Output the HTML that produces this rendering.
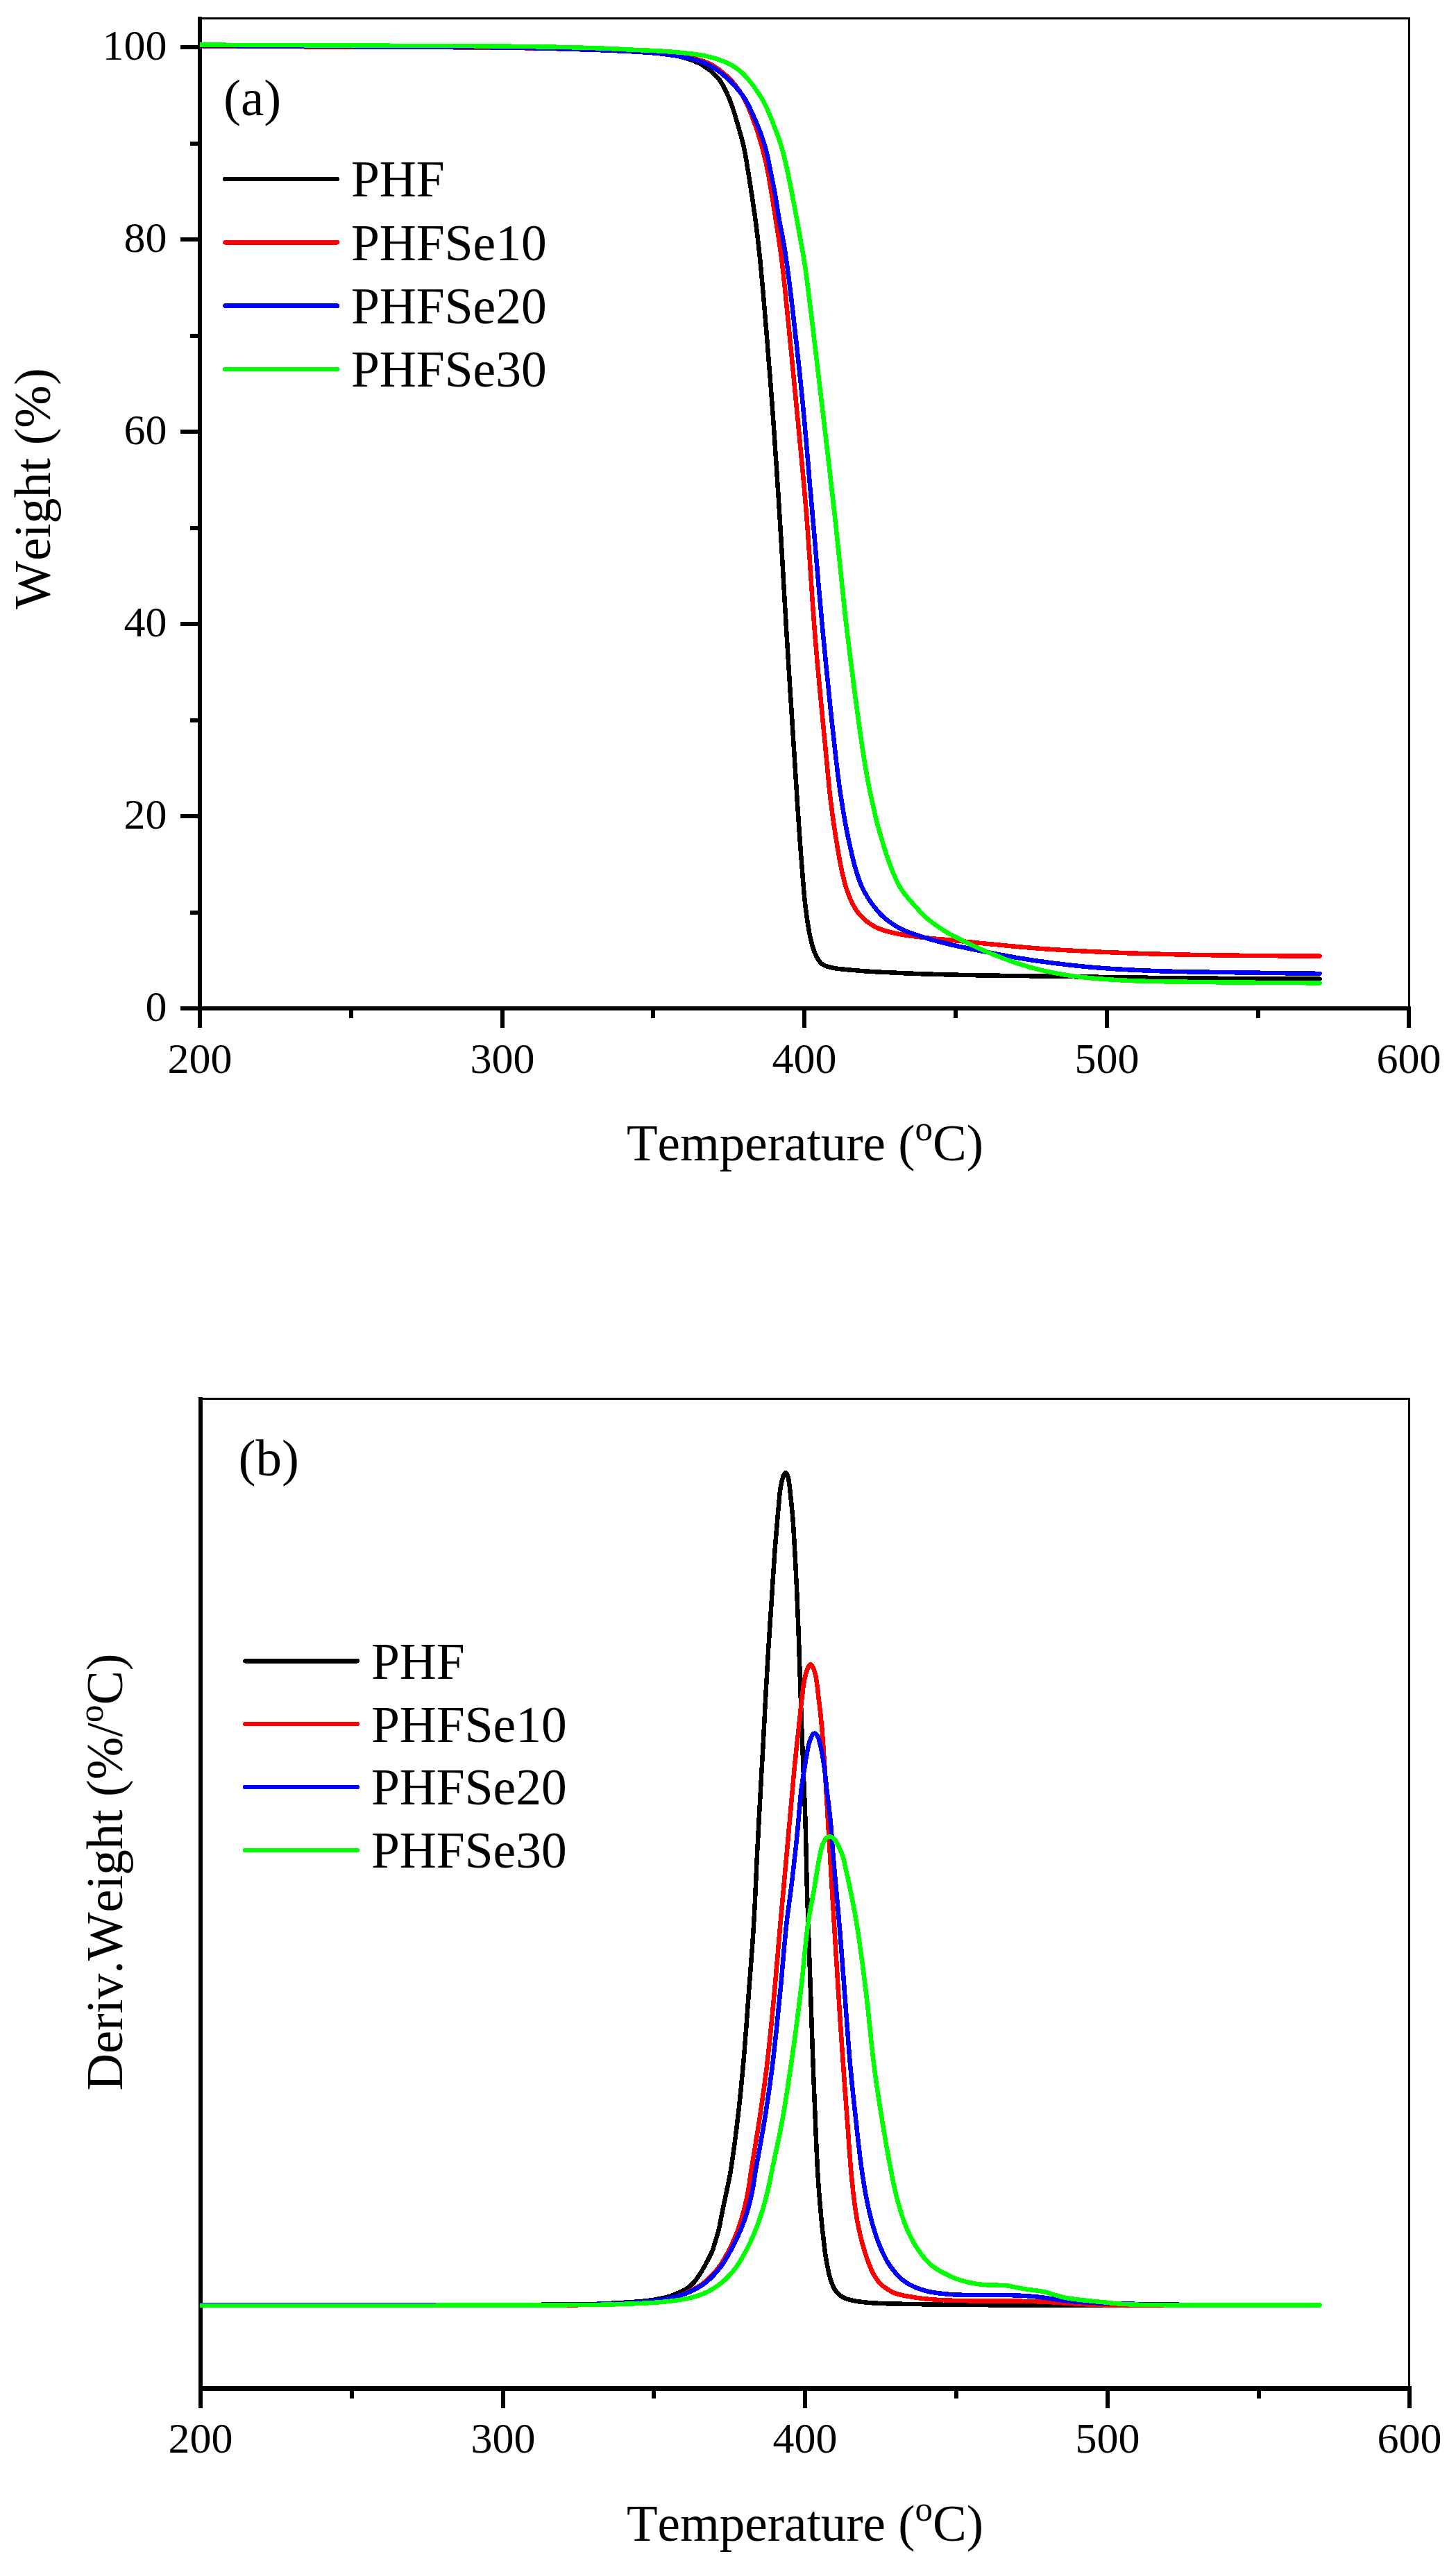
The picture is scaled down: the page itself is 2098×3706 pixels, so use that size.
<!DOCTYPE html>
<html lang="en">
<head>
<meta charset="utf-8">
<title>TGA and DTG curves</title>
<style>
html,body{margin:0;padding:0;background:#fff;}
body{width:2098px;height:3706px;overflow:hidden;}
svg{display:block;}
text{font-family:"Liberation Serif","Times New Roman",Times,serif;fill:#000;font-kerning:none;}
.tick{font-size:62px;}
.title{font-size:73px;}
.leg{font-size:73.5px;}
.panel{font-size:75px;}
.ax{stroke:#000;stroke-width:6;fill:none;stroke-linecap:butt;}
.bd{stroke:#000;stroke-width:3;fill:none;}
.cv{shape-rendering:crispEdges;fill:none;stroke-width:6.5;stroke-linejoin:round;stroke-linecap:round;}
</style>
</head>
<body>
<svg width="2098" height="3706" viewBox="0 0 2098 3706">
<rect x="0" y="0" width="2098" height="3706" fill="#ffffff"/>
<defs><clipPath id="plotclip"><rect x="288" y="0" width="1742" height="3706"/></clipPath></defs>
<g>
<path class="bd" shape-rendering="crispEdges" d="M288.0 26.5H2030.5V1453.0"/>
<path class="ax" shape-rendering="crispEdges" d="M288.0 24.0V1456.0"/>
<path class="ax" shape-rendering="crispEdges" style="stroke-width:6" d="M285.0 1453.0H2033.0"/>
<g clip-path="url(#plotclip)">
<path class="cv" stroke="#000000" d="M288 66L290.1 66L295.9 66L305.1 66.1L317.3 66.1L331.9 66.2L348.5 66.3L366.7 66.4L386 66.5L405.9 66.6L426.1 66.7L446.1 66.8L465.3 66.9L483.4 67L500 67.1L516.9 67.2L534.3 67.3L552.1 67.3L570.2 67.4L588.4 67.5L606.7 67.5L624.8 67.6L642.8 67.7L660.5 67.8L677.7 67.9L694.4 68L710.4 68.2L725.7 68.4L740 68.6L749.2 68.8L758.2 68.9L766.9 69.1L775.3 69.3L783.6 69.5L791.6 69.7L799.4 69.9L807 70.2L814.5 70.4L821.8 70.6L829 70.9L836.1 71.1L843.1 71.4L850 71.6L856.1 71.8L862.1 72L868 72.3L873.7 72.5L879.4 72.7L884.9 73L890.3 73.2L895.6 73.5L900.8 73.7L906 74L911 74.3L916 74.6L922 75L927.9 75.4L933.7 75.8L939.3 76.2L944.8 76.7L950.1 77.2L955.2 77.7L960 78.3L965.5 79.1L970.7 79.8L975.6 80.7L980.4 81.7L985 82.8L990.1 84.3L995 86L999.6 87.8L1003.7 89.5L1008.7 91.8L1013.3 94.5L1017.4 97.2L1021.6 100.3L1025.7 103.7L1029.8 107.5L1033.7 111.5L1037.4 116L1040.1 120.2L1042.7 124.8L1045 129.5L1047.2 134L1049.5 138.9L1051.5 143.6L1053.5 149L1055.1 153.5L1056.7 158.5L1058.4 163.7L1060 169.2L1061.6 174.7L1063.2 180L1064.7 185.2L1066.2 190.4L1067.7 195.6L1069.1 200.9L1070.4 206.2L1071.7 211.7L1072.8 216.8L1073.8 222.1L1074.8 227.4L1075.7 232.8L1076.5 238.2L1077.4 243.6L1078.3 249L1079.2 254.4L1080.1 259.9L1080.9 265.3L1081.8 270.8L1082.6 276.2L1083.4 281.6L1084.2 287L1085 292.1L1085.7 297.1L1086.4 302.1L1087.2 307L1087.9 312.1L1088.6 317.4L1089.3 323L1089.9 328L1090.6 333.1L1091.2 338.1L1091.8 343.3L1092.4 348.7L1093.1 354.3L1093.7 360.1L1094.4 366.3L1095.1 372.9L1095.8 380L1096.7 389.7L1097.7 400.3L1098.7 411.7L1099.8 423.8L1100.9 436.4L1102 449.6L1103.1 463.1L1104.3 476.8L1105.4 490.7L1106.5 504.7L1107.6 518.5L1108.7 532.2L1109.8 545.6L1110.8 558.6L1111.7 571.3L1112.7 584.1L1113.6 596.8L1114.5 609.5L1115.4 622.2L1116.3 635L1117.1 647.7L1118 660.4L1118.9 673.2L1119.7 685.9L1120.5 698.7L1121.4 711.4L1122.2 724.2L1123 737L1123.8 749.9L1124.6 762.9L1125.4 775.9L1126.2 788.9L1127 801.9L1127.7 815L1128.5 828L1129.2 841.1L1130 854.1L1130.7 867L1131.5 880L1132.3 892.9L1133 905.8L1133.8 918.6L1134.6 931.1L1135.4 943.9L1136.2 956.8L1137 969.7L1137.8 982.7L1138.6 995.7L1139.5 1008.5L1140.3 1021.2L1141.1 1033.6L1141.8 1045.7L1142.6 1057.5L1143.3 1068.8L1144 1079.7L1144.7 1090L1145.1 1096.8L1145.5 1103.3L1145.9 1109.6L1146.3 1115.7L1146.7 1121.6L1147.1 1127.4L1147.4 1133.1L1147.8 1138.7L1148.1 1144.2L1148.5 1149.7L1148.8 1155.3L1149.2 1160.9L1149.6 1166.6L1150 1172.4L1150.4 1178.3L1150.8 1184.3L1151.2 1190.4L1151.6 1196.4L1152.1 1202.5L1152.5 1208.6L1152.9 1214.7L1153.4 1220.7L1153.8 1226.6L1154.2 1232.5L1154.7 1238.3L1155.1 1243.9L1155.5 1249.5L1156 1254.8L1156.5 1260.8L1156.9 1266.7L1157.4 1272.4L1157.9 1278.1L1158.3 1283.6L1158.8 1289L1159.3 1294.3L1159.9 1299.6L1160.4 1304.8L1161.1 1309.9L1161.9 1316.2L1162.7 1322.5L1163.6 1328.6L1164.6 1334.6L1165.6 1340.4L1166.6 1345.8L1167.7 1351L1169.2 1357.4L1170.8 1363.3L1172.5 1368.7L1174.3 1373.5L1176.8 1379L1179.6 1383.5L1182 1386.7L1184.9 1389.4L1188.2 1391.2L1192.2 1392.7L1197 1394L1201.6 1395L1206.9 1395.8L1212.7 1396.4L1218.9 1397L1225.3 1397.6L1231.9 1398.2L1236.7 1398.6L1241.7 1399L1246.9 1399.4L1252.2 1399.7L1257.7 1400L1263.3 1400.4L1268.9 1400.7L1274.7 1401L1280.5 1401.2L1286.4 1401.5L1292.3 1401.8L1297.8 1402L1303.2 1402.3L1308.8 1402.5L1314.4 1402.7L1320.1 1403L1325.8 1403.2L1331.6 1403.4L1337.5 1403.6L1343.5 1403.7L1349.5 1403.9L1355.7 1404.1L1361.9 1404.3L1368.3 1404.4L1374.7 1404.6L1382.8 1404.8L1391 1405L1399.3 1405.1L1407.8 1405.3L1416.4 1405.4L1425.2 1405.5L1434.1 1405.6L1443.1 1405.8L1452.2 1405.9L1461.5 1406L1470.9 1406.1L1480.5 1406.2L1490.2 1406.4L1500 1406.5L1512.4 1406.7L1525.2 1406.9L1538.2 1407.1L1551.5 1407.3L1565 1407.5L1578.8 1407.7L1592.7 1407.9L1606.7 1408.1L1620.8 1408.3L1635 1408.5L1649.1 1408.7L1663.3 1408.9L1677.5 1409L1691.5 1409.2L1707.2 1409.4L1724.7 1409.5L1743.4 1409.7L1763 1409.8L1783 1410L1802.9 1410.1L1822.1 1410.2L1840.4 1410.3L1857.1 1410.4L1871.8 1410.5L1884.1 1410.6L1893.5 1410.7L1899.4 1410.7L1901.5 1410.7"/>
<path class="cv" stroke="#ff0000" d="M288 66.4L290.1 66.4L295.9 66.4L305.1 66.5L317.3 66.6L331.9 66.6L348.5 66.7L366.7 66.8L386 67L405.9 67.1L426.1 67.2L446.1 67.3L465.3 67.4L483.4 67.5L500 67.6L516.9 67.7L534.3 67.8L552.1 67.8L570.2 67.9L588.4 68L606.7 68L624.8 68.1L642.8 68.2L660.5 68.3L677.7 68.4L694.4 68.5L710.4 68.6L725.7 68.8L740 69L749.2 69.1L758.2 69.3L766.9 69.5L775.3 69.6L783.6 69.8L791.6 70L799.4 70.2L807 70.4L814.5 70.6L821.8 70.8L829 71L836.1 71.3L843.1 71.5L850 71.7L856.1 71.9L862.1 72.1L868 72.3L873.7 72.5L879.4 72.7L884.9 72.9L890.3 73.2L895.6 73.4L900.8 73.6L906 73.9L911 74.1L916 74.4L921.9 74.7L927.6 75L933.2 75.3L938.6 75.7L943.9 76L949.2 76.5L954.6 77L960 77.6L965.6 78.3L971.3 79.1L977.1 79.9L982.9 80.9L988.5 81.8L993.9 82.9L999 84L1003.7 85.2L1009.8 87L1015.3 88.8L1020.5 90.9L1025.7 93.5L1030.3 96.3L1035 99.6L1039.5 103.1L1043.8 106.6L1047.7 110L1052.1 114.2L1056 118.4L1059.8 123L1063.2 127.5L1066.5 132.3L1069.7 137.4L1072.8 143L1075 147.4L1077.2 152.1L1079.3 157L1081.4 162.1L1083.4 167.2L1085.3 172.4L1087.2 177.4L1089.2 183.1L1091.1 188.8L1093 194.5L1094.7 200.2L1096.4 206L1098 211.7L1099.5 217.4L1101 223.1L1102.3 228.8L1103.7 234.5L1104.9 240.3L1106.1 246L1107.2 251.7L1108.2 257.4L1109.2 263.2L1110.1 268.9L1111.1 274.7L1112 280.4L1112.9 286.1L1113.9 291.8L1114.8 297.5L1115.7 303.3L1116.6 309L1117.5 314.7L1118.4 320.4L1119.3 326.2L1120.2 331.9L1121.1 337.6L1122 343.4L1122.8 349.1L1123.6 354.5L1124.3 359.6L1125.1 364.6L1125.8 370L1126.6 376.1L1127.4 383.4L1128.4 391.7L1129.4 401.3L1130.6 411.9L1131.8 423.5L1133 435.8L1134.3 448.9L1135.7 462.4L1137.1 476.2L1138.4 490.3L1139.8 504.4L1141.2 518.4L1142.5 532.3L1143.8 545.7L1145 558.6L1146.3 571.4L1147.5 584.2L1148.8 597L1150 609.8L1151.3 622.7L1152.5 635.5L1153.7 648.4L1154.9 661.3L1156.1 674.1L1157.3 687L1158.5 699.9L1159.6 712.8L1160.7 725.6L1161.8 738.5L1162.8 751.4L1163.8 764.2L1164.7 777.1L1165.6 790L1166.5 802.9L1167.4 815.8L1168.2 828.7L1169.1 841.6L1169.9 854.5L1170.8 867.3L1171.7 880.2L1172.6 893L1173.6 905.8L1174.6 918.6L1175.7 931.4L1176.8 944.6L1178 958.1L1179.3 971.8L1180.6 985.5L1181.8 999.2L1183.1 1012.7L1184.4 1026L1185.6 1038.8L1186.8 1051.2L1188 1063L1189.1 1074L1190 1084.3L1190.9 1093.6L1191.6 1100.6L1192.2 1107L1192.7 1112.9L1193.2 1118.4L1193.7 1123.7L1194.2 1128.9L1194.7 1134L1195.3 1139.4L1195.9 1145L1196.5 1150.4L1197.2 1155.9L1197.9 1161.3L1198.6 1166.8L1199.3 1172.4L1200.1 1177.9L1200.9 1183.4L1201.7 1188.9L1202.5 1194.4L1203.3 1199.9L1204.2 1205.5L1205.1 1211.2L1206.1 1217L1207 1222.8L1208 1228.6L1209 1234.2L1210 1239.7L1211 1245.1L1212 1250.1L1213 1254.8L1214.4 1260.9L1215.7 1266.5L1217 1271.8L1218.5 1277L1220.3 1282.3L1222 1287L1223.9 1291.9L1225.9 1296.7L1228 1301.3L1230.3 1305.7L1232.7 1309.8L1236 1314.5L1239.6 1318.8L1243.4 1322.7L1247.4 1326.3L1251.5 1329.5L1255.7 1332.4L1260.1 1335L1264.8 1337.3L1269.9 1339.4L1275.3 1341.1L1280.9 1342.7L1286.8 1344.1L1291.8 1345.2L1297 1346.2L1302.3 1347.1L1307.9 1348L1313.7 1348.8L1319.8 1349.6L1324.7 1350.2L1329.9 1350.8L1335.2 1351.4L1340.7 1351.9L1346.4 1352.5L1352.1 1353L1357.8 1353.5L1363.5 1354L1369.1 1354.6L1374.7 1355.1L1380.2 1355.6L1385.6 1356.2L1391 1356.7L1396.4 1357.3L1401.8 1357.8L1407.2 1358.4L1412.7 1358.9L1418.3 1359.5L1423.9 1360L1429.7 1360.6L1435.2 1361.1L1440.8 1361.7L1446.4 1362.2L1452 1362.8L1457.7 1363.3L1463.5 1363.8L1469.4 1364.4L1475.3 1364.9L1481.3 1365.4L1487.4 1365.9L1493.7 1366.4L1500 1366.9L1506.6 1367.4L1513.4 1367.8L1520.2 1368.2L1527.2 1368.7L1534.3 1369.1L1541.5 1369.5L1548.7 1369.9L1556.1 1370.2L1563.4 1370.6L1570.9 1371L1578.3 1371.3L1585.8 1371.7L1593.4 1372L1600.9 1372.3L1609.1 1372.6L1617.4 1373L1625.6 1373.3L1633.9 1373.6L1642.3 1373.8L1650.7 1374.1L1659.2 1374.4L1667.7 1374.6L1676.4 1374.9L1685.2 1375.1L1694.1 1375.3L1703.2 1375.5L1712.4 1375.7L1721.8 1375.9L1734.4 1376.1L1748.8 1376.3L1764.4 1376.5L1781 1376.7L1798.1 1376.9L1815.2 1377.1L1831.9 1377.2L1847.8 1377.3L1862.4 1377.4L1875.3 1377.5L1886.1 1377.6L1894.4 1377.7L1899.6 1377.7L1901.5 1377.7"/>
<path class="cv" stroke="#0000ff" d="M288 66L290.1 66L295.9 66L305.1 66.1L317.3 66.2L331.9 66.2L348.5 66.3L366.7 66.4L386 66.5L405.9 66.7L426.1 66.8L446.1 66.9L465.3 67L483.4 67.1L500 67.2L516.9 67.3L534.3 67.4L552.1 67.4L570.2 67.5L588.4 67.6L606.7 67.6L624.8 67.7L642.8 67.8L660.5 67.9L677.7 68L694.4 68.1L710.4 68.3L725.7 68.5L740 68.7L749.2 68.9L758.2 69L766.9 69.2L775.3 69.4L783.6 69.6L791.6 69.8L799.4 70L807.1 70.3L814.5 70.5L821.9 70.7L829.1 71L836.1 71.2L843.1 71.5L850 71.7L856.7 71.9L863.2 72.2L869.5 72.4L875.7 72.7L881.8 72.9L887.7 73.2L893.6 73.4L899.3 73.7L904.9 74L910.4 74.3L915.8 74.6L921.7 75L927.4 75.3L933 75.6L938.4 76L943.7 76.4L949 76.8L954.4 77.4L959.8 78.1L965.4 78.9L971.2 79.8L977 80.8L982.8 81.8L988.4 83L993.9 84.2L999 85.5L1003.7 86.8L1009.8 88.8L1015.3 90.9L1020.5 93.2L1025.7 96L1030.3 98.9L1035 102.2L1039.5 105.7L1043.8 109.2L1047.7 112.5L1052 116.5L1055.7 120.3L1059.5 124.6L1063 128.7L1066.6 133.1L1070.2 137.8L1073.7 143L1076.2 147.3L1078.7 151.9L1081.1 156.9L1083.5 162L1085.8 167.2L1088.1 172.3L1090.2 177.4L1092.2 182.3L1094.1 187.1L1096 192L1097.8 196.9L1099.5 201.8L1101.1 206.8L1102.6 211.7L1104.1 217.4L1105.5 223.1L1106.7 228.8L1107.9 234.5L1109 240.3L1110.2 246L1111.4 251.7L1112.6 257.5L1113.7 263.2L1114.9 268.9L1115.9 274.7L1117 280.4L1118 286.1L1118.9 291.8L1119.8 297.5L1120.6 303.3L1121.5 309L1122.5 314.7L1123.5 320.4L1124.6 326.2L1125.8 331.9L1126.9 337.6L1128 343.4L1129 349.1L1129.9 354.5L1130.8 359.5L1131.6 364.6L1132.4 370L1133.3 376.1L1134.3 383.4L1135.4 391.7L1136.7 401.3L1138 411.9L1139.4 423.5L1140.9 435.8L1142.4 448.8L1144 462.3L1145.5 476.2L1147.1 490.3L1148.7 504.4L1150.2 518.4L1151.7 532.2L1153.1 545.7L1154.4 558.6L1155.7 571.4L1157 584.2L1158.2 597L1159.4 609.8L1160.5 622.6L1161.6 635.5L1162.8 648.4L1163.9 661.3L1165 674.1L1166 687L1167.1 699.9L1168.3 712.8L1169.4 725.6L1170.5 738.5L1171.6 751.4L1172.8 764.2L1173.9 777.1L1175 790L1176.1 802.9L1177.2 815.8L1178.3 828.7L1179.4 841.6L1180.6 854.5L1181.7 867.3L1182.9 880.2L1184 893L1185.2 905.8L1186.4 918.6L1187.7 931.4L1189 944.6L1190.3 958.1L1191.7 971.8L1193.1 985.5L1194.5 999.2L1195.8 1012.7L1197.2 1026L1198.6 1038.8L1199.9 1051.2L1201.2 1063L1202.4 1074L1203.6 1084.2L1204.6 1093.5L1205.5 1100.6L1206.2 1107L1206.9 1112.9L1207.6 1118.5L1208.3 1123.7L1209 1128.9L1209.7 1134.1L1210.5 1139.4L1211.3 1145.1L1212.2 1150.5L1213 1155.9L1213.9 1161.4L1214.7 1166.9L1215.7 1172.4L1216.6 1177.9L1217.6 1183.4L1218.6 1188.9L1219.6 1194.4L1220.7 1199.9L1221.8 1205.5L1223 1211.2L1224.3 1217L1225.6 1222.8L1226.9 1228.6L1228.2 1234.3L1229.6 1239.8L1230.9 1245.1L1232.3 1250.1L1233.7 1254.8L1235.6 1261L1237.5 1266.6L1239.4 1271.9L1241.6 1277.1L1244.1 1282.3L1246.7 1287.1L1249.6 1292L1252.7 1296.8L1255.9 1301.5L1259.1 1305.9L1262.2 1309.8L1265.5 1313.7L1268.6 1317.1L1271.9 1320.3L1275.6 1323.5L1279.4 1326.5L1283.4 1329.5L1287.7 1332.4L1292.3 1335.2L1297 1337.8L1301.7 1340.1L1306.8 1342.2L1312 1344.2L1317.3 1346L1322.7 1347.8L1328 1349.6L1333.4 1351.3L1338.7 1352.9L1344.2 1354.5L1349.7 1356L1355.3 1357.4L1361 1358.9L1365.9 1360.1L1370.8 1361.3L1375.8 1362.4L1380.9 1363.5L1386.1 1364.6L1391.4 1365.8L1396.7 1366.9L1402.2 1368L1407.4 1369.1L1412.8 1370.1L1418.3 1371.2L1423.9 1372.3L1429.6 1373.4L1435.2 1374.5L1440.9 1375.6L1446.4 1376.6L1451.8 1377.6L1457.1 1378.5L1462.6 1379.5L1467.9 1380.4L1473.1 1381.2L1478.2 1382.1L1483.3 1382.9L1488.6 1383.7L1494.2 1384.5L1500 1385.3L1505.2 1386L1510.7 1386.7L1516.2 1387.5L1521.9 1388.2L1527.7 1388.9L1533.7 1389.6L1539.7 1390.3L1545.8 1391L1552 1391.7L1558.2 1392.3L1564.4 1392.9L1570.7 1393.5L1576.8 1394L1582.9 1394.5L1589.1 1395L1595.4 1395.4L1601.7 1395.9L1608 1396.3L1614.5 1396.6L1621 1397L1627.5 1397.4L1634.1 1397.7L1640.8 1398L1647.6 1398.3L1654.4 1398.6L1661.3 1398.9L1669.4 1399.2L1677.7 1399.5L1686.1 1399.7L1694.6 1399.9L1703.2 1400.1L1711.9 1400.3L1720.7 1400.4L1729.5 1400.5L1738.4 1400.7L1747.2 1400.8L1756 1400.9L1764.8 1401L1773.5 1401.2L1782.2 1401.3L1791.3 1401.4L1801.4 1401.6L1812.1 1401.7L1823.3 1401.9L1834.6 1402L1845.9 1402.2L1856.8 1402.3L1867.1 1402.4L1876.5 1402.5L1884.8 1402.6L1891.7 1402.7L1897 1402.8L1900.3 1402.8L1901.5 1402.8"/>
<path class="cv" stroke="#00ff00" d="M288 64.6L290.1 64.6L295.9 64.6L305.1 64.7L317.3 64.7L331.9 64.8L348.5 64.8L366.7 64.9L386 65L405.9 65.1L426.1 65.2L446.1 65.3L465.3 65.3L483.4 65.4L500 65.5L516.9 65.6L534.3 65.6L552.1 65.7L570.2 65.8L588.4 65.8L606.7 65.9L624.9 66L642.8 66.1L660.5 66.1L677.7 66.2L694.4 66.4L710.4 66.5L725.7 66.6L740 66.8L749.2 66.9L758.2 67L766.9 67.2L775.3 67.3L783.5 67.4L791.5 67.6L799.3 67.7L807 67.9L814.5 68L821.8 68.2L829 68.4L836 68.6L843 68.8L849.9 69L856.6 69.2L863.1 69.5L869.4 69.7L875.7 70L881.7 70.3L887.7 70.5L893.5 70.8L899.2 71.1L904.9 71.4L910.4 71.6L915.8 71.9L921.7 72.2L927.4 72.4L933 72.6L938.4 72.9L943.7 73.1L949 73.4L954.4 73.7L959.8 74.1L965.4 74.5L971.1 75L976.9 75.5L982.7 76L988.4 76.6L993.8 77.2L998.9 77.8L1003.7 78.5L1009.8 79.5L1015.2 80.4L1020.4 81.6L1025.7 82.9L1031.4 84.5L1037.2 86.4L1042.7 88.4L1047.7 90.5L1052.1 92.7L1056.1 95L1060 97.6L1064.4 100.8L1068.8 104.4L1073.4 108.9L1076.3 112.2L1079.5 116L1082.8 120.1L1086.1 124.5L1089.4 129.2L1092.6 133.8L1095.6 138.5L1098.3 143L1101 147.8L1103.4 152.7L1105.7 157.6L1107.8 162.5L1109.8 167.5L1111.8 172.4L1113.8 177.4L1115.7 182.3L1117.6 187.1L1119.4 192L1121.2 196.9L1122.9 201.8L1124.5 206.8L1126 211.7L1127.6 217.4L1129.2 223.1L1130.6 228.8L1131.9 234.5L1133.2 240.3L1134.5 246L1135.7 251.7L1136.9 257.5L1138.1 263.2L1139.2 268.9L1140.3 274.7L1141.4 280.4L1142.5 286.1L1143.6 291.8L1144.7 297.5L1145.8 303.3L1146.8 309L1147.9 314.7L1149 320.4L1150 326.2L1151 331.9L1152.1 337.6L1153.1 343.4L1154.1 349.1L1155.1 354.5L1156 359.5L1156.9 364.6L1157.8 370L1158.8 376.1L1160 383.4L1161.1 391.7L1162.4 401.3L1163.8 411.9L1165.3 423.5L1166.8 435.9L1168.4 448.9L1170 462.4L1171.7 476.2L1173.3 490.3L1175 504.4L1176.7 518.4L1178.3 532.2L1179.9 545.7L1181.4 558.6L1182.9 571.4L1184.4 584.2L1186 597L1187.5 609.8L1189 622.7L1190.5 635.5L1192 648.4L1193.5 661.3L1195 674.1L1196.5 687L1197.9 699.9L1199.4 712.8L1200.9 725.6L1202.3 738.5L1203.7 751.4L1205.1 764.2L1206.5 777.1L1207.8 790L1209.1 802.9L1210.5 815.8L1211.8 828.7L1213.1 841.6L1214.5 854.5L1215.8 867.4L1217.2 880.2L1218.6 893L1220.1 905.8L1221.6 918.6L1223.2 931.4L1224.8 944.7L1226.5 958.2L1228.3 971.9L1230 985.6L1231.8 999.3L1233.6 1012.8L1235.4 1026L1237.1 1038.9L1238.9 1051.3L1240.5 1063L1242.1 1074.1L1243.7 1084.3L1245.1 1093.6L1246.2 1100.6L1247.3 1107.1L1248.3 1113L1249.3 1118.5L1250.2 1123.7L1251.2 1128.9L1252.2 1134.1L1253.3 1139.4L1254.5 1145L1255.7 1150.4L1256.8 1155.9L1258.1 1161.4L1259.3 1166.9L1260.6 1172.4L1261.9 1177.9L1263.3 1183.4L1264.7 1188.9L1266.2 1194.4L1267.7 1199.9L1269.3 1205.5L1271 1211.2L1272.8 1217L1274.6 1222.9L1276.4 1228.6L1278.3 1234.3L1280.2 1239.8L1282.1 1245.1L1283.9 1250.1L1285.8 1254.8L1288 1260L1290.1 1264.9L1292.2 1269.5L1294.4 1273.8L1296.8 1278.1L1299.4 1282.3L1302.3 1286.5L1305.4 1290.5L1308.7 1294.4L1312.1 1298.3L1315.4 1302L1318.6 1305.5L1322.5 1309.9L1326.2 1314L1329.9 1318L1333.7 1321.6L1338.3 1325.5L1342.9 1329L1347.5 1332.3L1352 1335.5L1356.6 1338.6L1361.2 1341.5L1365.7 1344.2L1370.3 1346.7L1374.9 1349.2L1379.5 1351.6L1384.1 1353.9L1388.7 1356.2L1393.3 1358.4L1397.8 1360.6L1402.4 1362.8L1407 1364.9L1411.6 1367L1416.2 1369L1420.8 1371L1425.3 1372.9L1429.9 1374.8L1434.5 1376.6L1439 1378.4L1443.6 1380.2L1448.2 1381.9L1452.8 1383.5L1457.4 1385.1L1462 1386.7L1466.5 1388.2L1471.1 1389.7L1475.7 1391.1L1480.2 1392.5L1484.8 1393.8L1489.4 1395.1L1494.1 1396.3L1498.6 1397.4L1504.1 1398.8L1510.2 1400.1L1514.4 1400.9L1519.2 1401.9L1524.4 1402.8L1529.8 1403.8L1535.2 1404.7L1540.4 1405.5L1545.3 1406.2L1550.1 1406.9L1554.9 1407.5L1559.8 1408.1L1565 1408.6L1570.7 1409.2L1575.4 1409.6L1580.3 1410L1585.3 1410.4L1590.6 1410.8L1596.1 1411.2L1601.6 1411.6L1607.4 1411.9L1613.2 1412.2L1619.1 1412.5L1625.1 1412.8L1631.1 1413.1L1636.9 1413.3L1642.8 1413.5L1648.8 1413.7L1654.8 1413.9L1660.9 1414L1667.1 1414.1L1673.4 1414.2L1679.8 1414.3L1686.4 1414.4L1693.1 1414.5L1700 1414.6L1707.1 1414.7L1714.3 1414.8L1721.8 1414.9L1733.6 1415.1L1747.4 1415.2L1762.8 1415.4L1779.2 1415.5L1796.2 1415.6L1813.4 1415.8L1830.3 1415.9L1846.4 1416L1861.3 1416.1L1874.6 1416.2L1885.7 1416.3L1894.2 1416.4L1899.6 1416.4L1901.5 1416.4"/>
</g>
<path class="ax" shape-rendering="crispEdges" d="M288.0 1453.0v28.0M506.0 1453.0v14.0M724.0 1453.0v28.0M941.0 1453.0v14.0M1159.0 1453.0v28.0M1377.0 1453.0v14.0M1595.0 1453.0v28.0M1813.0 1453.0v14.0M2030.0 1453.0v28.0"/>
<text class="tick" text-anchor="middle" x="288.0" y="1546.0">200</text>
<text class="tick" text-anchor="middle" x="724.0" y="1546.0">300</text>
<text class="tick" text-anchor="middle" x="1159.0" y="1546.0">400</text>
<text class="tick" text-anchor="middle" x="1595.0" y="1546.0">500</text>
<text class="tick" text-anchor="middle" x="2030.0" y="1546.0">600</text>
<path class="ax" shape-rendering="crispEdges" d="M288.0 1453.0h-28M288.0 1314.5h-14M288.0 1176.0h-28M288.0 1037.5h-14M288.0 899.0h-28M288.0 760.5h-14M288.0 622.0h-28M288.0 483.5h-14M288.0 345.0h-28M288.0 206.5h-14M288.0 68.0h-28"/>
<text class="tick" text-anchor="end" x="240.5" y="1471.0">0</text>
<text class="tick" text-anchor="end" x="240.5" y="1194.0">20</text>
<text class="tick" text-anchor="end" x="240.5" y="917.0">40</text>
<text class="tick" text-anchor="end" x="240.5" y="640.0">60</text>
<text class="tick" text-anchor="end" x="240.5" y="363.0">80</text>
<text class="tick" text-anchor="end" x="240.5" y="86.0">100</text>
<text class="panel" x="322.0" y="165.5">(a)</text>
<line class="cv" stroke="#000000" x1="324.4" y1="258.0" x2="485.9" y2="258.0"/>
<text class="leg" x="505.9" y="283.3">PHF</text>
<line class="cv" stroke="#ff0000" x1="324.4" y1="349.3" x2="485.9" y2="349.3"/>
<text class="leg" x="505.9" y="374.6">PHFSe10</text>
<line class="cv" stroke="#0000ff" x1="324.4" y1="440.6" x2="485.9" y2="440.6"/>
<text class="leg" x="505.9" y="465.9">PHFSe20</text>
<line class="cv" stroke="#00ff00" x1="324.4" y1="531.9" x2="485.9" y2="531.9"/>
<text class="leg" x="505.9" y="557.2">PHFSe30</text>
<text class="title" style="font-size:74px" text-anchor="middle" transform="translate(71.7 704.0) rotate(-90)">Weight (%)</text>
<text class="title" text-anchor="middle" x="1160" y="1671.5">Temperature (<tspan dy="-28.5" font-size="51">o</tspan><tspan dy="28.5">C)</tspan></text>
</g>
<g>
<path class="bd" shape-rendering="crispEdges" d="M289.0 2015.5H2030.5V3441.5"/>
<path class="ax" shape-rendering="crispEdges" d="M289.0 2013.0V3444.5"/>
<path class="ax" shape-rendering="crispEdges" style="stroke-width:7" d="M286.0 3441.5H2034.0"/>
<g clip-path="url(#plotclip)">
<path class="cv" stroke="#000000" d="M288 3322L291.2 3322L300.1 3322L314.2 3322L332.7 3322L354.8 3321.9L379.9 3321.9L407.2 3321.9L436 3321.8L465.5 3321.8L495.2 3321.7L524.2 3321.7L551.8 3321.6L577.3 3321.6L600 3321.5L619.3 3321.4L639.4 3321.4L659.9 3321.4L680.8 3321.3L701.6 3321.3L722.2 3321.2L742.4 3321.2L761.9 3321.1L780.4 3321.1L797.7 3321L813.5 3320.8L827.7 3320.7L839.9 3320.5L850 3320.3L857.2 3320.1L862.9 3319.8L867.7 3319.6L872.4 3319.3L877.5 3319L882.4 3318.7L887.5 3318.5L892.5 3318.2L897.6 3317.9L902.6 3317.5L907.5 3317.2L913.2 3316.8L918.9 3316.4L924.6 3315.9L930 3315.4L935 3314.8L940.8 3314L946.2 3313L951.4 3312L956.2 3311L960.8 3310L965.2 3308.8L970.8 3306.6L976.2 3304.2L980.1 3302.5L984.1 3300.7L987.8 3298.7L992.6 3295.4L996.8 3291.8L999.9 3288.6L1002.9 3284.9L1005.9 3280.7L1009 3276L1011.9 3271.2L1014.5 3266.7L1017 3262.1L1019.4 3257.5L1021.8 3252.9L1024.2 3248.3L1026.3 3243.7L1027.9 3239.2L1029.2 3234.7L1030.6 3230L1031.9 3225.9L1033.2 3221.6L1034.5 3217.1L1035.7 3212.4L1036.9 3207.3L1037.9 3201.9L1039 3196.3L1040.1 3190.6L1041.2 3185L1042.3 3179.5L1043.5 3174L1044.7 3168.5L1045.9 3163L1047 3157.5L1048.1 3152.2L1049.2 3147.2L1050.3 3142L1051.4 3136.4L1052.5 3130L1053.2 3125.5L1054 3120.5L1054.8 3115.3L1055.6 3109.7L1056.4 3104L1057.3 3098L1058.1 3091.9L1058.9 3085.7L1059.7 3079.5L1060.5 3073.2L1061.3 3067L1062 3061L1062.7 3055L1063.4 3049.5L1064 3043.9L1064.7 3038.4L1065.3 3032.9L1065.9 3027.4L1066.4 3021.9L1067 3016.3L1067.6 3010.7L1068.1 3005.1L1068.7 2999.4L1069.2 2993.7L1069.8 2987.9L1070.3 2982L1070.8 2976L1071.5 2969.1L1072.1 2962L1072.7 2954.8L1073.2 2947.6L1073.8 2940.2L1074.4 2932.8L1075 2925.4L1075.5 2917.9L1076.1 2910.4L1076.6 2902.8L1077.2 2895.3L1077.7 2887.8L1078.3 2880.4L1078.8 2873L1079.4 2865.7L1079.9 2858.3L1080.5 2851L1081.1 2843.7L1081.6 2836.5L1082.2 2829.2L1082.7 2821.9L1083.2 2814.6L1083.8 2807.2L1084.3 2799.9L1084.8 2792.5L1085.3 2785L1085.8 2777.5L1086.2 2770L1086.7 2762L1087.1 2754L1087.6 2745.9L1088 2737.8L1088.4 2729.7L1088.7 2721.6L1089.1 2713.4L1089.5 2705.2L1089.9 2696.9L1090.2 2688.6L1090.6 2680.2L1091 2671.8L1091.4 2663.3L1091.9 2654.7L1092.4 2645.2L1092.9 2635.7L1093.4 2625.9L1093.9 2616.1L1094.5 2606.2L1095 2596.3L1095.6 2586.3L1096.1 2576.3L1096.7 2566.4L1097.2 2556.4L1097.8 2546.5L1098.3 2536.7L1098.9 2527L1099.4 2517.4L1099.9 2508.2L1100.4 2498.9L1100.9 2489.4L1101.4 2479.8L1101.9 2470.1L1102.4 2460.6L1102.9 2451.2L1103.4 2441.9L1103.9 2433L1104.4 2424.3L1104.9 2416.1L1105.3 2408.3L1105.7 2401L1106.1 2394.4L1106.5 2387.7L1106.9 2381.7L1107.2 2376.2L1107.5 2371L1107.9 2366L1108.2 2360.9L1108.5 2355.5L1108.9 2350L1109.3 2344.5L1109.6 2339L1110 2333.5L1110.4 2328L1110.7 2322.5L1111.1 2317L1111.5 2311.4L1111.8 2305.9L1112.2 2300.3L1112.5 2294.7L1112.9 2289.2L1113.2 2283.6L1113.6 2278L1114 2272.5L1114.3 2267L1114.7 2261.6L1115 2256.1L1115.4 2250.5L1115.8 2244.8L1116.2 2239L1116.6 2233.5L1117.1 2227.7L1117.5 2221.7L1118 2215.6L1118.5 2209.6L1119 2203.7L1119.5 2198.1L1119.9 2192.8L1120.4 2188L1120.9 2181.9L1121.3 2176.4L1121.8 2171.3L1122.3 2166L1122.8 2160.3L1123.3 2154.5L1123.9 2149L1124.6 2144L1125.7 2138.1L1127 2133L1128 2129L1129.3 2125.5L1130.6 2123.2L1132 2122L1133.5 2123.2L1134.8 2125.5L1135.8 2128.9L1136.5 2133L1137.3 2138.1L1138 2144L1138.6 2149L1139.1 2154.5L1139.7 2160.3L1140.3 2166L1140.8 2171.3L1141.3 2176.4L1141.9 2181.9L1142.4 2188L1142.8 2192.8L1143.1 2198L1143.5 2203.7L1143.8 2209.6L1144.2 2215.6L1144.5 2221.7L1144.9 2227.7L1145.2 2233.5L1145.5 2239L1145.8 2244.8L1146.1 2250.5L1146.4 2256.1L1146.7 2261.6L1147 2267L1147.2 2272.5L1147.5 2278L1147.8 2283.6L1148 2289.1L1148.3 2294.7L1148.5 2300.3L1148.7 2305.9L1149 2311.4L1149.2 2317L1149.4 2322.5L1149.6 2328L1149.9 2333.5L1150.1 2339L1150.3 2344.5L1150.5 2350L1150.7 2355.5L1150.9 2360.9L1151.1 2366.2L1151.3 2371.4L1151.4 2376.7L1151.6 2382.2L1151.8 2388L1152 2394.4L1152.2 2399.5L1152.4 2405L1152.6 2410.9L1152.8 2417L1153 2423.3L1153.2 2429.7L1153.4 2436.3L1153.6 2442.9L1153.9 2449.5L1154.1 2455.9L1154.3 2462.3L1154.5 2468.5L1154.7 2474.4L1154.9 2480L1155.1 2486L1155.3 2491.9L1155.6 2497.6L1155.8 2503.2L1156 2508.6L1156.2 2514L1156.4 2519.3L1156.6 2524.6L1156.8 2529.8L1157 2535L1157.2 2540.7L1157.5 2546.4L1157.7 2551.9L1157.9 2557.4L1158.1 2562.8L1158.3 2568.2L1158.6 2573.6L1158.8 2579L1159 2584.8L1159.2 2590.3L1159.5 2595.7L1159.7 2601.3L1159.9 2607L1160.1 2613.2L1160.4 2620L1160.5 2625.8L1160.7 2632.2L1160.9 2639L1161.1 2646.1L1161.2 2653.5L1161.4 2661.1L1161.6 2668.8L1161.8 2676.6L1161.9 2684.3L1162.1 2691.8L1162.3 2699.2L1162.5 2706.2L1162.6 2712.8L1162.8 2719L1163 2725.3L1163.2 2731.1L1163.3 2736.6L1163.5 2741.8L1163.7 2747L1163.9 2752.3L1164.1 2757.8L1164.3 2763.6L1164.5 2770L1164.7 2776.3L1164.9 2782.8L1165.2 2789.7L1165.4 2796.8L1165.7 2804.1L1166 2811.6L1166.2 2819.3L1166.5 2827L1166.8 2834.7L1167 2842.5L1167.3 2850.3L1167.6 2858L1167.8 2865.6L1168.1 2873L1168.4 2880.4L1168.6 2887.8L1168.9 2895.3L1169.1 2902.8L1169.4 2910.3L1169.6 2917.9L1169.9 2925.4L1170.1 2932.8L1170.4 2940.2L1170.6 2947.6L1170.9 2954.8L1171.1 2962L1171.4 2969.1L1171.6 2976L1171.9 2982L1172.1 2987.9L1172.3 2993.7L1172.5 2999.4L1172.8 3005.1L1173 3010.7L1173.2 3016.3L1173.5 3021.8L1173.7 3027.4L1173.9 3032.9L1174.1 3038.4L1174.4 3043.9L1174.6 3049.5L1174.9 3055L1175.1 3060.9L1175.3 3066.8L1175.6 3072.7L1175.8 3078.6L1176.1 3084.5L1176.3 3090.4L1176.6 3096.3L1176.8 3102.1L1177.1 3107.9L1177.4 3113.5L1177.6 3119.1L1177.9 3124.6L1178.2 3130L1178.6 3135.9L1179 3141.6L1179.3 3147.1L1179.7 3152.6L1180.1 3158L1180.5 3163.4L1181 3168.8L1181.4 3174.2L1181.9 3179.5L1182.4 3185L1182.9 3190.6L1183.4 3196.3L1184 3202.1L1184.6 3207.9L1185.1 3213.7L1185.8 3219.4L1186.4 3224.9L1187 3230.2L1187.6 3235.2L1188.2 3240L1189 3246.1L1189.8 3251.8L1190.7 3257.1L1191.6 3262.3L1192.6 3267.4L1193.8 3273.2L1195.2 3278.9L1196.7 3284.3L1198.4 3289.3L1200.5 3294.4L1202.9 3299L1205.8 3303.1L1209.1 3306.3L1212.8 3309L1216.8 3311.3L1221.4 3313.1L1226.5 3314.3L1231.9 3315.4L1237 3316.3L1242.2 3317L1248.1 3317.6L1255 3318.2L1259.3 3318.5L1263.9 3318.7L1268.9 3319L1274.2 3319.2L1279.8 3319.3L1285.7 3319.5L1291.7 3319.6L1298 3319.7L1304.3 3319.9L1310.8 3320L1317.4 3320.1L1324.1 3320.2L1330.7 3320.3L1337.4 3320.4L1346 3320.5L1354.5 3320.7L1363.1 3320.8L1371.9 3320.9L1380.8 3321L1389.8 3321.1L1399.1 3321.1L1408.7 3321.2L1418.6 3321.2L1428.9 3321.3L1439.6 3321.4L1450.8 3321.4L1462.5 3321.5L1474.7 3321.5L1499.9 3321.6L1530.8 3321.6L1566 3321.7L1604.3 3321.7L1644.7 3321.7L1685.9 3321.7L1726.7 3321.7L1765.9 3321.6L1802.4 3321.6L1834.9 3321.6L1862.2 3321.5L1883.3 3321.5L1896.7 3321.5L1901.5 3321.5"/>
<path class="cv" stroke="#ff0000" d="M288 3322L291.2 3322L300.1 3322L314.2 3322L332.7 3322L354.8 3322L379.9 3322L407.2 3322L436 3322L465.5 3321.9L495.2 3321.9L524.2 3321.9L551.8 3321.9L577.3 3321.8L600 3321.8L619.1 3321.8L638.5 3321.8L658.2 3321.8L678 3321.8L697.7 3321.8L717.3 3321.8L736.5 3321.8L755.2 3321.8L773.4 3321.7L790.8 3321.7L807.3 3321.6L822.7 3321.4L837 3321.2L850 3321L857.3 3320.8L864.1 3320.7L870.5 3320.5L876.6 3320.4L882.4 3320.2L887.9 3320L893.3 3319.8L898.5 3319.6L903.5 3319.3L908.6 3319L913.6 3318.6L918.7 3318.2L924.9 3317.6L931.1 3317L937.1 3316.3L942.9 3315.6L948.6 3314.7L954.1 3313.8L959.3 3312.9L964.2 3311.8L969.7 3310.4L974.8 3309L979.6 3307.4L984.2 3305.6L989 3303.6L994 3301.3L999.1 3298.8L1004 3296.1L1008.9 3293.1L1013.5 3289.8L1017.4 3286.7L1021.2 3283.3L1024.9 3279.6L1028.4 3275.9L1031.8 3271.9L1035 3267.9L1038.1 3263.6L1041 3259.2L1043.7 3254.5L1046.4 3249.8L1048.9 3245.1L1051.3 3240.4L1053.6 3235.8L1055.8 3231.2L1057.9 3226.5L1059.8 3221.8L1061.7 3217.1L1063.5 3212.4L1065.4 3206.9L1067.2 3201.5L1068.8 3196L1070.3 3190.5L1071.8 3185L1073.2 3179.5L1074.5 3174L1075.7 3168.5L1076.8 3163L1077.9 3157.5L1078.8 3152.2L1079.6 3147.2L1080.3 3142L1081.1 3136.4L1082 3130.1L1082.8 3125.5L1083.6 3120.6L1084.4 3115.3L1085.3 3109.8L1086.3 3104L1087.3 3098L1088.3 3091.9L1089.3 3085.7L1090.3 3079.4L1091.3 3073.2L1092.3 3067L1093.2 3060.9L1094.1 3055L1095 3049.4L1095.8 3043.9L1096.6 3038.4L1097.4 3032.9L1098.2 3027.4L1099 3021.8L1099.8 3016.3L1100.6 3010.7L1101.4 3005.1L1102.1 2999.4L1102.9 2993.7L1103.6 2987.9L1104.4 2982L1105.1 2976L1105.9 2969.1L1106.7 2962L1107.5 2954.9L1108.3 2947.6L1109.1 2940.2L1109.8 2932.8L1110.6 2925.4L1111.3 2917.9L1112 2910.4L1112.8 2902.8L1113.5 2895.3L1114.2 2887.8L1114.9 2880.4L1115.6 2873L1116.3 2865.6L1117 2858L1117.7 2850.3L1118.3 2842.5L1119 2834.8L1119.7 2827L1120.4 2819.3L1121 2811.6L1121.6 2804.1L1122.3 2796.8L1122.9 2789.7L1123.5 2782.8L1124 2776.3L1124.6 2770L1125.2 2763.7L1125.7 2757.8L1126.2 2752.3L1126.7 2747L1127.2 2741.8L1127.6 2736.6L1128.2 2731.1L1128.7 2725.3L1129.3 2719L1129.8 2712.9L1130.4 2706.5L1131 2699.7L1131.6 2692.8L1132.3 2685.6L1132.9 2678.3L1133.6 2670.9L1134.3 2663.4L1135 2655.9L1135.6 2648.5L1136.3 2641.1L1136.9 2633.9L1137.6 2626.8L1138.2 2620L1138.7 2614L1139.3 2608L1139.8 2602.1L1140.3 2596.2L1140.8 2590.3L1141.4 2584.5L1141.9 2578.8L1142.4 2573L1142.9 2567.4L1143.4 2561.8L1143.9 2556.2L1144.4 2550.8L1144.9 2545.3L1145.5 2540L1146.1 2534.2L1146.7 2528.3L1147.3 2522.6L1147.9 2516.8L1148.5 2511.2L1149.1 2505.6L1149.7 2500.2L1150.3 2494.9L1150.9 2489.8L1151.4 2484.8L1151.9 2480L1152.6 2473.7L1153.2 2467.7L1153.8 2461.9L1154.4 2456.4L1155 2451.1L1155.6 2446L1156.3 2440L1157 2434.2L1157.7 2428.8L1158.5 2424L1159.6 2418.1L1160.8 2413L1161.9 2409.3L1163 2406L1164 2403.3L1165.2 2401L1166.5 2399.2L1167.9 2398.3L1169.3 2399.2L1170.6 2401L1171.8 2403.3L1172.8 2406L1174 2409.3L1175 2413L1176 2418.1L1176.8 2424L1177.5 2428.9L1178.1 2434.2L1178.8 2440L1179.5 2446L1180.1 2451.1L1180.8 2456.5L1181.4 2462L1182.1 2467.8L1182.7 2473.8L1183.4 2480L1183.8 2484.9L1184.3 2490L1184.7 2495.2L1185.1 2500.5L1185.6 2505.9L1186 2511.5L1186.4 2517.2L1186.8 2523L1187.2 2528.9L1187.6 2535L1188 2540.5L1188.4 2546.1L1188.7 2551.9L1189.1 2557.7L1189.5 2563.7L1189.8 2569.8L1190.2 2575.9L1190.6 2582.1L1190.9 2588.4L1191.3 2594.7L1191.7 2601L1192.1 2607.4L1192.4 2613.7L1192.8 2620L1193.2 2626.9L1193.6 2634L1194.1 2641.3L1194.5 2648.7L1194.9 2656.1L1195.4 2663.6L1195.8 2671.1L1196.2 2678.5L1196.7 2685.7L1197.1 2692.9L1197.5 2699.8L1197.9 2706.5L1198.3 2712.9L1198.6 2719L1199 2725.3L1199.4 2731.1L1199.7 2736.6L1200 2741.8L1200.3 2747L1200.7 2752.3L1201 2757.8L1201.4 2763.6L1201.8 2770L1202.2 2776.3L1202.6 2782.8L1203 2789.7L1203.4 2796.8L1203.9 2804.1L1204.3 2811.6L1204.8 2819.3L1205.3 2827L1205.8 2834.7L1206.3 2842.5L1206.8 2850.3L1207.2 2858L1207.7 2865.6L1208.2 2873L1208.7 2880.4L1209.2 2887.8L1209.6 2895.3L1210.1 2902.8L1210.6 2910.3L1211.1 2917.9L1211.6 2925.4L1212.1 2932.8L1212.6 2940.2L1213.1 2947.6L1213.6 2954.8L1214.1 2962L1214.6 2969.1L1215.1 2976L1215.5 2982L1215.9 2987.9L1216.3 2993.7L1216.7 2999.4L1217.1 3005.1L1217.5 3010.7L1217.9 3016.3L1218.4 3021.8L1218.8 3027.4L1219.2 3032.9L1219.6 3038.4L1220 3043.9L1220.4 3049.5L1220.8 3055L1221.2 3060.9L1221.7 3066.8L1222.1 3072.7L1222.5 3078.6L1222.9 3084.5L1223.3 3090.4L1223.7 3096.3L1224.1 3102.1L1224.6 3107.9L1225 3113.6L1225.5 3119.2L1225.9 3124.7L1226.4 3130L1227 3136L1227.6 3141.8L1228.2 3147.7L1228.8 3153.4L1229.4 3159.1L1230.1 3164.6L1230.8 3170L1231.4 3175.2L1232.1 3180.2L1232.8 3185L1233.7 3190.6L1234.5 3195.8L1235.4 3200.8L1236.3 3205.6L1237.3 3210.3L1238.3 3215L1239.5 3220.2L1240.7 3225.3L1242 3230.4L1243.4 3235.2L1244.7 3239.9L1246.1 3244.7L1247.6 3249.3L1249.1 3253.7L1250.6 3258L1252.5 3263.2L1254.5 3268.2L1256.7 3272.9L1258.8 3277L1261.1 3280.9L1263.5 3284.5L1266.4 3288.4L1270 3292L1273.6 3295L1278 3298.1L1282.8 3301.1L1287.9 3303.6L1292.9 3305.4L1298.4 3306.8L1304.1 3308L1309.9 3309L1315.4 3309.9L1320.3 3310.7L1325 3311.4L1329.8 3312L1334.7 3312.5L1340 3313L1345.1 3313.4L1350.3 3313.8L1355.7 3314.1L1361.3 3314.3L1367.2 3314.6L1373.4 3314.8L1380 3315L1385 3315.1L1390.5 3315.2L1396.2 3315.3L1402.2 3315.3L1408.4 3315.4L1414.7 3315.4L1421.1 3315.4L1427.5 3315.4L1433.8 3315.4L1440.1 3315.4L1446.1 3315.5L1451.9 3315.5L1457.3 3315.5L1462.4 3315.6L1469 3315.7L1475.2 3315.8L1481 3315.9L1486.7 3316L1492.2 3316.2L1497.8 3316.4L1503.6 3316.6L1509.5 3316.9L1515.4 3317.2L1521.3 3317.6L1527.1 3318L1533 3318.5L1538.9 3318.8L1544.8 3319.2L1550.6 3319.5L1556.3 3319.9L1562 3320.2L1567.7 3320.5L1573.6 3320.7L1579.6 3321L1586 3321.2L1591.1 3321.3L1596.2 3321.4L1601.3 3321.5L1606.5 3321.6L1611.8 3321.6L1617.3 3321.7L1623 3321.7L1629.1 3321.7L1635.6 3321.7L1642.5 3321.8L1650 3321.8L1664.1 3321.8L1681.6 3321.9L1702 3321.9L1724.4 3321.9L1748.2 3321.9L1772.6 3321.9L1796.8 3321.9L1820.2 3321.9L1842 3321.9L1861.5 3321.8L1877.9 3321.8L1890.5 3321.8L1898.6 3321.8L1901.5 3321.8"/>
<path class="cv" stroke="#0000ff" d="M288 3321.5L291.2 3321.5L300.1 3321.5L314.2 3321.5L332.7 3321.4L354.8 3321.4L379.9 3321.4L407.2 3321.4L436 3321.3L465.5 3321.3L495.2 3321.2L524.2 3321.2L551.8 3321.1L577.3 3321.1L600 3321L619 3321L638.4 3320.9L658 3320.9L677.6 3320.9L697.2 3320.9L716.6 3320.9L735.7 3320.9L754.3 3320.9L772.4 3320.8L789.8 3320.7L806.4 3320.6L822 3320.5L836.6 3320.3L850 3320L857.4 3319.8L864.5 3319.7L871.3 3319.5L877.8 3319.3L884 3319.1L890 3319L895.7 3318.7L901.3 3318.5L906.6 3318.2L911.9 3317.9L917 3317.6L922 3317.2L926.9 3316.8L933.2 3316.2L939.1 3315.6L944.7 3314.9L950.1 3314.1L955.3 3313.3L960.4 3312.3L965.4 3311.3L971.1 3310L976.6 3308.5L981.9 3306.9L987 3305.2L992.1 3303.1L997.2 3300.8L1002.1 3298.3L1007 3295.6L1011.7 3292.6L1016.3 3289.3L1020.1 3286.1L1023.9 3282.7L1027.5 3279.1L1031 3275.3L1034.4 3271.4L1037.6 3267.4L1040.7 3263.1L1043.7 3258.6L1046.5 3254L1049.2 3249.3L1051.8 3244.6L1054.3 3239.9L1056.7 3235.4L1059 3230.8L1061.3 3226.2L1063.5 3221.6L1065.5 3217L1067.5 3212.4L1069.7 3207L1071.7 3201.5L1073.7 3196L1075.5 3190.5L1077.2 3185L1078.8 3179.5L1080.2 3174L1081.6 3168.5L1082.8 3163L1084 3157.5L1085 3152.2L1085.8 3147.2L1086.6 3142L1087.4 3136.4L1088.4 3130L1089.2 3125.4L1090.1 3120.5L1091 3115.2L1092 3109.7L1093.1 3103.9L1094.2 3098L1095.3 3091.9L1096.4 3085.7L1097.5 3079.4L1098.6 3073.2L1099.7 3067L1100.7 3060.9L1101.7 3055L1102.6 3049.5L1103.5 3043.9L1104.3 3038.4L1105.1 3032.9L1106 3027.4L1106.8 3021.9L1107.6 3016.3L1108.4 3010.7L1109.2 3005.1L1110 2999.4L1110.7 2993.7L1111.5 2987.9L1112.3 2982L1113 2976L1113.9 2969.1L1114.7 2962L1115.5 2954.9L1116.3 2947.6L1117.1 2940.2L1117.9 2932.8L1118.7 2925.4L1119.5 2917.9L1120.2 2910.4L1121 2902.8L1121.7 2895.3L1122.5 2887.8L1123.2 2880.4L1123.9 2873L1124.7 2865.5L1125.4 2857.9L1126.1 2850.2L1126.8 2842.4L1127.5 2834.6L1128.2 2826.8L1128.9 2819L1129.5 2811.4L1130.2 2803.9L1130.9 2796.5L1131.6 2789.5L1132.2 2782.7L1132.9 2776.2L1133.5 2770.1L1134.3 2763.4L1135.1 2757.3L1135.8 2751.6L1136.6 2746.2L1137.3 2740.8L1138.1 2735.3L1138.8 2729.5L1139.6 2723.4L1140.2 2718.2L1140.9 2712.8L1141.6 2707.2L1142.2 2701.6L1142.9 2695.9L1143.6 2690.1L1144.2 2684.2L1144.9 2678.3L1145.6 2672.4L1146.2 2666.5L1146.9 2660.6L1147.5 2654.7L1148.1 2648.9L1148.7 2642.8L1149.3 2636.6L1149.8 2630.2L1150.4 2623.8L1151 2617.4L1151.5 2611.1L1152.1 2605L1152.6 2599.1L1153.1 2593.4L1153.6 2588.2L1154.1 2583.3L1154.6 2579L1155.4 2572.6L1156.2 2567.2L1156.9 2562.2L1157.7 2557L1158.6 2551.5L1159.5 2546L1160.4 2540.5L1161.3 2535L1162.3 2529.2L1163.3 2523.3L1164.4 2517.8L1165.5 2513L1167 2508.3L1168.5 2504.5L1169.7 2501.6L1171 2499.3L1172.4 2498.1L1173.8 2497.5L1175.2 2498.1L1176.6 2499.3L1178.1 2501.6L1179.3 2504.5L1180.5 2508.3L1181.6 2513L1182.7 2517.8L1183.8 2523.3L1185 2529.2L1186 2535L1186.9 2540.5L1187.6 2546L1188.3 2551.5L1189 2557L1189.6 2562.3L1190.2 2567.6L1190.7 2573L1191.4 2579L1192 2584.1L1192.7 2589.7L1193.4 2595.5L1194.2 2601.5L1194.9 2607.6L1195.6 2613.8L1196.3 2620L1196.8 2625.3L1197.3 2630.8L1197.7 2636.3L1198.2 2641.9L1198.6 2647.5L1199 2653.2L1199.4 2658.8L1199.9 2664.4L1200.3 2670L1200.8 2675.5L1201.2 2680.9L1201.7 2686.3L1202.2 2691.8L1202.6 2697.2L1203.1 2702.6L1203.6 2708.1L1204.1 2713.5L1204.6 2719L1205.1 2724.5L1205.6 2729.9L1206.1 2735.3L1206.6 2740.6L1207.1 2746.1L1207.6 2751.7L1208.1 2757.5L1208.6 2763.6L1209.2 2770L1209.7 2776.3L1210.3 2782.8L1210.8 2789.7L1211.4 2796.8L1211.9 2804.1L1212.5 2811.6L1213.1 2819.3L1213.7 2827L1214.3 2834.7L1214.9 2842.5L1215.5 2850.3L1216.1 2858L1216.6 2865.6L1217.2 2873L1217.8 2880.4L1218.3 2887.8L1218.9 2895.3L1219.4 2902.8L1220 2910.3L1220.5 2917.9L1221.1 2925.4L1221.7 2932.8L1222.2 2940.2L1222.8 2947.6L1223.4 2954.8L1223.9 2962L1224.5 2969.1L1225.2 2976L1225.7 2982L1226.3 2987.9L1226.8 2993.7L1227.4 2999.4L1227.9 3005.1L1228.5 3010.7L1229.1 3016.3L1229.7 3021.9L1230.3 3027.4L1230.9 3032.9L1231.5 3038.4L1232.1 3043.9L1232.7 3049.5L1233.3 3055L1234 3060.9L1234.6 3066.8L1235.2 3072.7L1235.9 3078.7L1236.5 3084.6L1237.2 3090.5L1237.9 3096.4L1238.6 3102.2L1239.3 3108L1240 3113.6L1240.7 3119.2L1241.5 3124.7L1242.2 3130.1L1243.1 3136L1244 3141.7L1244.9 3147.4L1245.8 3152.9L1246.8 3158.4L1247.8 3163.8L1248.8 3169.2L1249.9 3174.5L1251 3179.8L1252.2 3185L1253.5 3190.4L1254.9 3195.8L1256.2 3201.2L1257.7 3206.5L1259.2 3211.8L1260.8 3216.9L1262.4 3222L1264.1 3226.9L1265.9 3231.6L1268 3236.8L1270.1 3241.8L1272.3 3246.7L1274.6 3251.4L1277 3256L1279.6 3260.4L1282.4 3264.6L1285.6 3269L1289 3273.3L1292.6 3277.4L1296.3 3281.3L1300.3 3284.8L1304.4 3288L1308.6 3290.7L1313 3293.1L1317.5 3295.2L1322.2 3297.1L1327 3298.8L1331.9 3300.3L1337.1 3301.7L1342.5 3302.8L1348 3303.7L1353.6 3304.4L1359.2 3305L1364.8 3305.6L1370.6 3306.1L1376.3 3306.4L1382.2 3306.7L1388 3306.8L1394 3306.9L1400 3307L1405.6 3307L1411.3 3307L1417 3307L1422.8 3306.9L1428.5 3306.8L1434.3 3306.8L1440 3306.8L1445.7 3306.9L1451.4 3307L1457.2 3307.2L1462.9 3307.4L1468.4 3307.6L1473.8 3307.9L1478.9 3308.2L1484.2 3308.6L1489.2 3309L1494 3309.5L1498.8 3310L1503.6 3310.6L1508.5 3311.3L1513.3 3312L1518.2 3312.8L1523.1 3313.5L1528.3 3314.2L1533.5 3314.8L1538.8 3315.4L1544.3 3316L1549.9 3316.5L1555.6 3317L1561.3 3317.4L1566.5 3317.7L1571.7 3318L1576.9 3318.2L1582.3 3318.3L1587.8 3318.5L1593.7 3318.6L1600 3318.8L1604.7 3318.9L1609.6 3319.1L1614.5 3319.2L1619.6 3319.4L1624.8 3319.5L1630.2 3319.6L1635.7 3319.8L1641.4 3319.9L1647.3 3320L1653.4 3320.2L1659.7 3320.3L1666.2 3320.4L1673 3320.5L1680 3320.6L1693.5 3320.7L1709.7 3320.9L1728.2 3321L1748.2 3321L1769.1 3321.1L1790.4 3321.2L1811.5 3321.2L1831.8 3321.2L1850.6 3321.3L1867.3 3321.3L1881.3 3321.3L1892.1 3321.3L1899.1 3321.3L1901.5 3321.3"/>
<path class="cv" stroke="#00ff00" d="M288 3322L291.2 3322L300.1 3322L314.2 3322L332.7 3322L354.8 3322L379.9 3322L407.2 3322L436 3322L465.5 3321.9L495.2 3321.9L524.2 3321.9L551.8 3321.9L577.3 3321.8L600 3321.8L619.2 3321.8L639 3321.7L659.2 3321.7L679.6 3321.7L700 3321.6L720.2 3321.6L739.9 3321.6L759.1 3321.5L777.4 3321.5L794.8 3321.4L810.9 3321.3L825.6 3321.2L838.7 3321.1L850 3321L857.6 3320.9L864.1 3320.8L869.6 3320.7L874.8 3320.6L879.8 3320.5L885.2 3320.3L891.2 3320.1L896.5 3319.9L902.1 3319.7L907.9 3319.5L913.9 3319.3L919.9 3319L926 3318.7L932 3318.4L937.9 3318.1L943.7 3317.7L949.2 3317.3L954.4 3316.8L960.5 3316.2L966.4 3315.6L972.1 3314.9L977.5 3314.1L982.8 3313.3L988 3312.4L992.9 3311.3L998.3 3310L1003.3 3308.5L1008.2 3306.9L1012.9 3305.2L1017.6 3303.1L1022.2 3300.8L1026.7 3298.3L1031.1 3295.5L1035.4 3292.6L1039.6 3289.3L1043.3 3286.1L1046.9 3282.7L1050.4 3279.1L1053.8 3275.3L1057.1 3271.4L1060.2 3267.4L1063.3 3263.1L1066.2 3258.6L1068.9 3254L1071.6 3249.3L1074.1 3244.6L1076.6 3239.9L1078.9 3235.4L1081.1 3230.8L1083.2 3226.2L1085.2 3221.6L1087.1 3217L1089 3212.4L1091.1 3207L1093.1 3201.5L1095 3196L1096.9 3190.5L1098.6 3185L1100.2 3179.5L1101.8 3174L1103.3 3168.5L1104.7 3163L1106 3157.5L1107.2 3152.2L1108.3 3147.2L1109.4 3142L1110.5 3136.4L1111.8 3130L1112.8 3125.4L1113.8 3120.5L1114.9 3115.3L1116.1 3109.7L1117.3 3103.9L1118.6 3098L1119.9 3091.9L1121.2 3085.7L1122.5 3079.5L1123.7 3073.2L1124.9 3067L1126.1 3060.9L1127.2 3055L1128.2 3049.5L1129.2 3043.9L1130.1 3038.4L1131 3032.9L1131.9 3027.4L1132.8 3021.9L1133.7 3016.3L1134.5 3010.7L1135.4 3005.1L1136.2 2999.4L1137.1 2993.7L1137.9 2987.9L1138.8 2982L1139.7 2976L1140.7 2969.1L1141.7 2962L1142.7 2954.9L1143.7 2947.6L1144.7 2940.3L1145.7 2932.8L1146.7 2925.4L1147.7 2917.9L1148.7 2910.4L1149.6 2902.8L1150.6 2895.3L1151.5 2887.8L1152.4 2880.4L1153.3 2873L1154.2 2865.6L1155.1 2858L1155.9 2850.3L1156.7 2842.5L1157.5 2834.7L1158.2 2827L1159 2819.2L1159.8 2811.6L1160.6 2804.1L1161.3 2796.8L1162.1 2789.7L1162.9 2782.8L1163.7 2776.2L1164.6 2770L1165.6 2763.4L1166.6 2757L1167.7 2750.9L1168.8 2744.9L1169.9 2739.2L1170.9 2733.8L1171.9 2728.6L1172.8 2723.6L1173.6 2719L1174.6 2712.9L1175.4 2707.4L1176.2 2702.3L1177.1 2697L1178 2691.4L1179 2685.7L1180 2680.1L1181 2675L1182.1 2669.9L1183.1 2665.2L1184.3 2661L1185.8 2656.7L1187.5 2653L1189.1 2650.3L1191 2648.2L1193.1 2646.9L1195.3 2646.3L1197.6 2646.8L1199.8 2648L1201.6 2649.6L1203.2 2651.5L1204.9 2653.8L1206.5 2656.5L1208.5 2660.5L1210.5 2665L1212.5 2669.7L1214.5 2675L1215.8 2679.9L1217.1 2685.4L1218.3 2691.3L1219.5 2697L1220.7 2702.3L1221.9 2707.4L1223.1 2712.8L1224.4 2719L1225.3 2723.4L1226.3 2728.1L1227.3 2733.2L1228.3 2738.4L1229.4 2743.9L1230.4 2749.6L1231.5 2755.5L1232.6 2761.6L1233.7 2767.7L1234.7 2774L1235.7 2780.2L1236.7 2786.6L1237.6 2793.2L1238.6 2800.1L1239.6 2807.1L1240.6 2814.3L1241.6 2821.5L1242.6 2828.9L1243.5 2836.3L1244.5 2843.7L1245.4 2851.1L1246.3 2858.5L1247.2 2865.8L1248.1 2873L1249 2880.3L1249.8 2887.7L1250.7 2895.2L1251.4 2902.7L1252.2 2910.2L1253 2917.7L1253.8 2925.2L1254.5 2932.7L1255.3 2940.1L1256.1 2947.5L1256.8 2954.8L1257.7 2962L1258.5 2969.1L1259.4 2976L1260.1 2982L1260.9 2987.9L1261.7 2993.7L1262.5 2999.4L1263.3 3005.1L1264.2 3010.7L1265 3016.3L1265.8 3021.9L1266.7 3027.4L1267.5 3032.9L1268.4 3038.4L1269.3 3043.9L1270.2 3049.5L1271.1 3055L1272 3060.9L1273 3066.9L1274 3072.9L1275.1 3079L1276.1 3085L1277.1 3091.1L1278.2 3097L1279.2 3102.9L1280.3 3108.7L1281.3 3114.3L1282.3 3119.7L1283.3 3125L1284.3 3130L1285.4 3135.8L1286.5 3141.2L1287.6 3146.4L1288.6 3151.4L1289.7 3156.3L1290.8 3161.2L1292.1 3166.2L1293.4 3171.2L1294.9 3176.4L1296.4 3181.7L1298 3187L1299.6 3192.3L1301.4 3197.5L1303.2 3202.7L1305.1 3207.6L1307.1 3212.4L1309.6 3217.9L1312.1 3223.2L1314.8 3228.3L1317.6 3233.2L1320.5 3238L1323.6 3242.6L1327.1 3247.5L1330.8 3252.2L1334.7 3256.7L1338.7 3260.8L1342.9 3264.6L1347.1 3267.8L1351.5 3270.7L1356.1 3273.3L1360.6 3275.6L1364.8 3277.8L1370 3280.3L1374.9 3282.3L1380 3284.2L1385.4 3285.9L1390.9 3287.5L1396.5 3288.8L1402 3289.9L1407.5 3290.9L1413 3291.6L1418.4 3292.1L1423.8 3292.4L1429.4 3292.6L1434.7 3292.7L1440.4 3292.8L1445.9 3292.9L1450.9 3293.3L1456.8 3294.3L1462.4 3295.6L1467.7 3296.6L1473.3 3297.7L1478.9 3298.6L1484.5 3299.3L1490 3300L1495.4 3300.7L1500 3301.4L1504.3 3302.2L1508.6 3303.2L1512.4 3304.3L1516.1 3305.6L1520.1 3306.8L1525.2 3308.3L1530.7 3309.8L1536.6 3311.1L1541.2 3311.9L1546.1 3312.6L1551.2 3313.2L1556.3 3313.8L1561.3 3314.4L1566.2 3314.9L1571 3315.5L1575.8 3315.9L1580.8 3316.4L1586 3316.9L1591.2 3317.4L1596.6 3318L1602.1 3318.6L1607.7 3319.1L1613.7 3319.6L1620 3320L1624.7 3320.2L1629.4 3320.4L1634.1 3320.6L1639 3320.7L1644 3320.9L1649.2 3320.9L1654.7 3321L1660.4 3321.1L1666.6 3321.2L1673.1 3321.2L1680 3321.3L1692.6 3321.4L1708.2 3321.5L1726.2 3321.5L1746 3321.6L1767 3321.6L1788.4 3321.6L1809.7 3321.6L1830.2 3321.6L1849.4 3321.6L1866.4 3321.6L1880.8 3321.5L1891.9 3321.5L1899 3321.5L1901.5 3321.5"/>
</g>
<path class="ax" shape-rendering="crispEdges" d="M289.0 3441.5v28.5M507.0 3441.5v14.5M725.0 3441.5v28.5M942.0 3441.5v14.5M1160.0 3441.5v28.5M1378.0 3441.5v14.5M1596.0 3441.5v28.5M1814.0 3441.5v14.5M2031.0 3441.5v28.5"/>
<text class="tick" text-anchor="middle" x="289.0" y="3534.0">200</text>
<text class="tick" text-anchor="middle" x="725.0" y="3534.0">300</text>
<text class="tick" text-anchor="middle" x="1160.0" y="3534.0">400</text>
<text class="tick" text-anchor="middle" x="1596.0" y="3534.0">500</text>
<text class="tick" text-anchor="middle" x="2031.0" y="3534.0">600</text>
<text class="panel" x="343.5" y="2125.5">(b)</text>
<line class="cv" stroke="#000000" x1="353.4" y1="2393.3" x2="514.9" y2="2393.3"/>
<text class="leg" x="534.9" y="2418.6">PHF</text>
<line class="cv" stroke="#ff0000" x1="353.4" y1="2484.2" x2="514.9" y2="2484.2"/>
<text class="leg" x="534.9" y="2509.5">PHFSe10</text>
<line class="cv" stroke="#0000ff" x1="353.4" y1="2575.1" x2="514.9" y2="2575.1"/>
<text class="leg" x="534.9" y="2600.4">PHFSe20</text>
<line class="cv" stroke="#00ff00" x1="353.4" y1="2666.0" x2="514.9" y2="2666.0"/>
<text class="leg" x="534.9" y="2691.3">PHFSe30</text>
<text class="title" style="font-size:74px" text-anchor="middle" transform="translate(176.0 2697.4) rotate(-90)">Deriv.Weight (%/<tspan dy="-28.5" font-size="51">o</tspan><tspan dy="28.5">C)</tspan></text>
<text class="title" text-anchor="middle" x="1160" y="3660.8">Temperature (<tspan dy="-28.5" font-size="51">o</tspan><tspan dy="28.5">C)</tspan></text>
</g>
</svg>
</body>
</html>
